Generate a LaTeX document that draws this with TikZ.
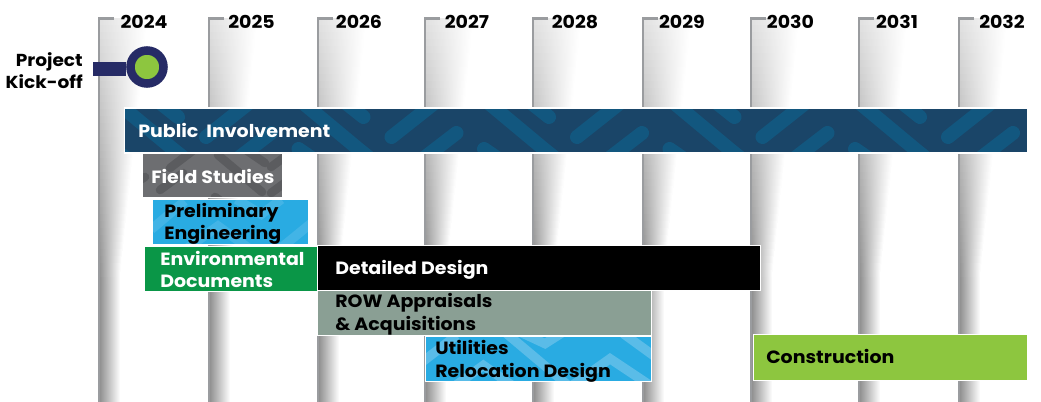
\documentclass[tikz,border=0pt]{standalone}
\usepackage{fontspec}
\setmainfont{Poppins}[FakeStretch=1.07]
\definecolor{navy}{HTML}{262B66}
\definecolor{limeg}{HTML}{8DC63F}
\definecolor{pubbase}{HTML}{1A4568}
\definecolor{pubband}{HTML}{12577F}
\definecolor{fieldbase}{HTML}{6D6E71}
\definecolor{fieldband}{HTML}{5B5C5F}
\definecolor{skyb}{HTML}{29ABE2}
\definecolor{skyfaint}{HTML}{42B4E6}
\definecolor{skylight}{HTML}{5ABCE8}
\definecolor{envg}{HTML}{0A9647}
\definecolor{rowg}{HTML}{8A9F94}
\definecolor{yearline}{HTML}{9A9C9F}
\tikzset{
  x=0.75pt,y=-0.75pt,
  barbox/.style={rectangle,draw=white,line width=1.1pt,inner sep=0pt,outer sep=0pt},
  barframe/.style={draw=white,line width=1.1pt},
  barlabel/.style={anchor=west,inner sep=0pt,align=left,font=\fontsize{13.3}{16.9}\selectfont\bfseries},
  yearlabel/.style={inner sep=0pt,font=\fontsize{13.3}{15}\selectfont\bfseries},
  pubbandline/.style={pubband,line width=10.5pt,line cap=round},
  fieldbandline/.style={fieldband,line width=6.4pt,line cap=round},
  chevron/.style={line width=7pt,line join=miter}
}
\newcommand{\yearcol}[3]{%
  \foreach \yy in {19,26,...,397}{%
    \pgfmathsetmacro{\gv}{max(0.55,0.88-0.33*(\yy-19)/260)}%
    \pgfmathsetmacro{\slw}{max(21,48-27*(\yy-19)/250)}%
    \definecolor{slicecol}{gray}{\gv}%
    \shade[left color=slicecol,right color=white] (#1,\yy) rectangle (#1+\slw,\yy+7.6);%
  }%
  \coordinate (#2top) at (#1,18.5);
  \coordinate (#2tick) at (#1+15,18.5);
  \coordinate (#2bot) at (#1,402);
  \draw[yearline,line width=1.6pt] (#2tick) -- (#2top) -- (#2bot);
  \node[yearlabel] (#2) at (#3,22) {#2};
}
\begin{document}
\begin{tikzpicture}
\useasboundingbox (0,0) rectangle (1041,402);
\fill[white] (0,0) rectangle (1041,402);
\yearcol{99}{2024}{144}
\yearcol{209}{2025}{251.5}
\yearcol{318}{2026}{359}
\yearcol{425}{2027}{467}
\yearcol{533}{2028}{575}
\yearcol{643}{2029}{682}
\yearcol{751}{2030}{790.5}
\yearcol{859}{2031}{897}
\yearcol{959}{2032}{1002}

% kick-off
\node[circle,fill=limeg,draw=navy,line width=6.4pt,minimum size=33*0.75pt,inner sep=0pt] (kick) at (147,67) {};
\coordinate (stem) at (93,69);
\draw[navy,line width=10.6pt] (stem) -- (kick.west |- stem);
\node[inner sep=0pt,align=right,anchor=east,font=\fontsize{13}{16.9}\selectfont\bfseries] (kicklabel) at (83,70.5) {Project\\Kick-off};

% Public Involvement
\node[barbox,fill=pubbase,minimum width=903.4*0.75pt,minimum height=45.4*0.75pt] (pub) at (576,130.5) {};
\begin{scope}
\clip (pub.south west) rectangle (pub.north east);
\foreach \k in {-2,...,3}{
  \begin{scope}[xshift=\k*185.5*0.75pt]
  \draw[pubbandline] (485,100) -- (545,150) -- (560,162);
  \draw[pubbandline] (525,98) -- (549,117);
  \draw[pubbandline] (577,137) -- (625,99);
  \draw[pubbandline] (642,133) -- (603,163);
  \draw[pubbandline] (484,149) -- (500,160);
  \end{scope}
}
\end{scope}
\draw[barframe] (pub.south west) rectangle (pub.north east);
\node[barlabel,text=white] (publabel) at (138,130) {Public\ \ Involvement};

% Field Studies
\node[barbox,fill=fieldbase,minimum width=140.4*0.75pt,minimum height=44.4*0.75pt] (field) at (212.5,175.5) {};
\begin{scope}
\clip (field.south west) rectangle (field.north east);
\draw[fieldbandline] (160,190) -- (183,173);
\draw[fieldbandline] (170,168) -- (195,149);
\draw[fieldbandline] (218,155) -- (262,192);
\draw[fieldbandline] (246,150) -- (265,163);
\draw[fieldbandline] (271,167) -- (290,153);
\draw[fieldbandline] (271,193) -- (290,179);
\draw[fieldbandline] (215,197) -- (225,204);
\draw[fieldbandline] (140,180) -- (145,177);
\end{scope}
\draw[barframe] (field.south west) rectangle (field.north east);
\node[barlabel,text=white] (fieldlabel) at (151,176) {Field Studies};

% Preliminary Engineering
\node[barbox,fill=skyb,minimum width=156.4*0.75pt,minimum height=45.4*0.75pt] (prelim) at (230.5,222) {};
\begin{scope}
\clip (prelim.south west) rectangle (prelim.north east);
\begin{scope}[shift={(148,196)},x=0.25pt,y=-0.25pt]
\draw[skyfaint,chevron] (10,100) -- (110,15);
\draw[skyfaint,chevron] (120,155) -- (210,90) -- (300,155);
\draw[skyfaint,chevron] (265,10) -- (340,55) -- (400,10);
\draw[skyfaint,chevron] (400,155) -- (510,65);
\end{scope}
\end{scope}
\draw[barframe] (prelim.south west) rectangle (prelim.north east);
\node[barlabel,text=black] (prelimlabel) at (164,224) {Preliminary\\Engineering};

% Environmental Documents
\node[barbox,fill=envg,minimum width=173.4*0.75pt,minimum height=45.4*0.75pt] (env) at (231,269) {};
\node[barlabel,text=white] (envlabel) at (160,269.5) {Environmental\\Documents};

% Detailed Design
\node[barbox,fill=black,minimum width=443.4*0.75pt,minimum height=45.4*0.75pt] (detail) at (539,268) {};
\node[barlabel,text=white] (detaillabel) at (335,270) {Detailed Design};

% ROW
\node[barbox,fill=rowg,minimum width=334.4*0.75pt,minimum height=45.4*0.75pt] (row) at (484.5,313) {};
\node[barlabel,text=black] (rowlabel) at (335,314) {ROW Appraisals\\\& Acquisitions};

% Utilities
\node[barbox,fill=skyb,minimum width=226.4*0.75pt,minimum height=45.4*0.75pt] (util) at (538.5,359) {};
\begin{scope}
\clip (util.south west) rectangle (util.north east);
\begin{scope}[shift={(420,332)},x=0.25pt,y=-0.25pt]
\draw[skylight,chevron] (0,95) -- (110,10);
\draw[skylight,chevron] (100,165) -- (190,100) -- (290,170);
\draw[skylight,chevron] (260,5) -- (450,165) -- (570,80) -- (720,180);
\draw[skylight,chevron] (300,0) -- (375,35) -- (430,0);
\draw[skylight,chevron] (610,5) -- (720,85);
\end{scope}
\end{scope}
\draw[barframe] (util.south west) rectangle (util.north east);
\node[barlabel,text=black] (utillabel) at (435,361.5) {Utilities\\Relocation Design};

% Construction
\node[barbox,fill=limeg,minimum width=274.4*0.75pt,minimum height=46.4*0.75pt] (constr) at (890.5,357.5) {};
\node[barlabel,text=black] (constrlabel) at (766,356) {Construction};
\end{tikzpicture}
\end{document}
